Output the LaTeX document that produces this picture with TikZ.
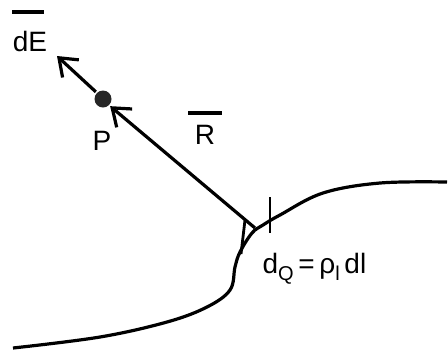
\documentclass[tikz,border=0pt]{standalone}
\usepackage{fontspec}
\setmainfont{Liberation Sans}
\usetikzlibrary{arrows.meta}
\newcommand{\mysub}[1]{\raisebox{-3.5pt}{\fontsize{10}{12}\selectfont #1}}
\begin{document}
\begin{tikzpicture}[x=0.5pt,y=-0.5pt,
  line width=1.6pt,
  lbl/.style={inner sep=0pt, font=\fontsize{14}{16}\selectfont},
  vec/.style={-{Straight Barb[length=8pt,width=12pt,line width=1.6pt]}},
  bar/.style={line width=1.6pt},
  tick/.style={line width=1.4pt}]
\useasboundingbox (0,0) rectangle (448,350);
% point P
\node[circle, fill=black!85, minimum size=8.5pt, inner sep=0pt] (P) at (103,99) {};
\coordinate (tipE) at (57,56);
\coordinate (src) at (255,228);
% curve (line charge)
\draw plot[smooth, tension=0.6] coordinates {
  (13,348) (100,337) (167,322) (207,307) (230,290) (235,267) (240,252)
  (252,233) (263,225) (280,215) (323,193) (380,183) (447,182)};
% vectors
\draw[vec] (src) -- (P.south east);
\draw[vec] (P.north west) -- (tipE);
% ticks
\draw[tick] (270,197) -- (270,233);
\draw[tick] (245,220) -- (241,254);
% labels
\node[lbl] (dE) at (30,41) {dE};
\draw[bar] (12,12) -- (44,12);
\node[lbl] (Pl) at (102,141) {P};
\node[lbl] (R) at (205,135) {R};
\draw[bar] (188,113) -- (222,113);
\node[lbl, anchor=base west] (dq) at (261,273) {d\mysub{Q}\,=\,ρ\mysub{l}\,dl};
\end{tikzpicture}
\end{document}
